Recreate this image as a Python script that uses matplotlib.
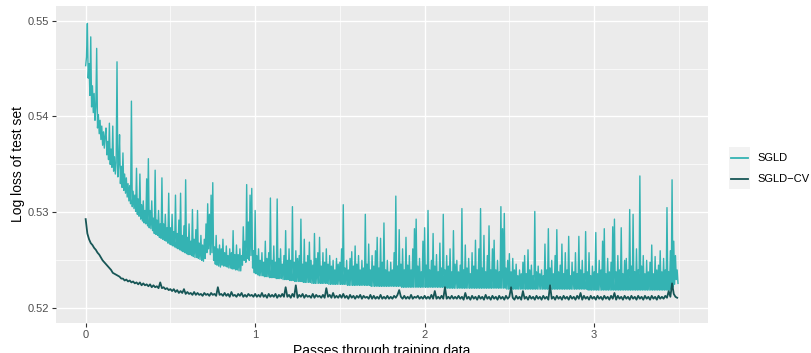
import numpy as np
import matplotlib
matplotlib.use("Agg")
import matplotlib.pyplot as plt
from matplotlib.lines import Line2D
from matplotlib.patches import Rectangle

plt.rcParams['font.family'] = ['Liberation Sans', 'DejaVu Sans']

# ---- data ----
sgld_step = 0.005
sgld = [
    0.5453, 0.5462, 0.5497, 0.5440, 0.5455, 0.5422, 0.5483, 0.5410, 0.5432, 0.5404,
    0.5424, 0.5396, 0.5410, 0.5471, 0.5388, 0.5402, 0.5382, 0.5396, 0.5376, 0.5390,
    0.5370, 0.5384, 0.5367, 0.5380, 0.5388, 0.5360, 0.5374, 0.5355, 0.5393, 0.5350,
    0.5366, 0.5347, 0.5390, 0.5343, 0.5358, 0.5340, 0.5352, 0.5457, 0.5337, 0.5350,
    0.5381, 0.5330, 0.5348, 0.5326, 0.5362, 0.5323, 0.5340, 0.5320, 0.5336, 0.5316,
    0.5330, 0.5312, 0.5328, 0.5309, 0.5416, 0.5306, 0.5322, 0.5304, 0.5318, 0.5301,
    0.5346, 0.5298, 0.5314, 0.5296, 0.5340, 0.5293, 0.5308, 0.5291, 0.5312, 0.5289,
    0.5302, 0.5288, 0.5335, 0.5286, 0.5356, 0.5284, 0.5302, 0.5283, 0.5312, 0.5281,
    0.5294, 0.5278, 0.5344, 0.5277, 0.5292, 0.5276, 0.5302, 0.5274, 0.5288, 0.5273,
    0.5336, 0.5272, 0.5288, 0.5271, 0.5298, 0.5270, 0.5284, 0.5268, 0.5320, 0.5267,
    0.5284, 0.5266, 0.5298, 0.5265, 0.5280, 0.5264, 0.5318, 0.5263, 0.5278, 0.5262,
    0.5292, 0.5261, 0.5320, 0.5260, 0.5276, 0.5259, 0.5286, 0.5258, 0.5334, 0.5257,
    0.5274, 0.5256, 0.5288, 0.5256, 0.5270, 0.5255, 0.5303, 0.5254, 0.5272, 0.5253,
    0.5282, 0.5253, 0.5302, 0.5252, 0.5268, 0.5251, 0.5276, 0.5250, 0.5266, 0.5249,
    0.5272, 0.5252, 0.5288, 0.5258, 0.5309, 0.5262, 0.5298, 0.5256, 0.5318, 0.5258,
    0.5331, 0.5250, 0.5264, 0.5246, 0.5276, 0.5245, 0.5262, 0.5244, 0.5266, 0.5243,
    0.5262, 0.5245, 0.5272, 0.5244, 0.5258, 0.5244, 0.5265, 0.5243, 0.5255, 0.5242,
    0.5262, 0.5242, 0.5258, 0.5241, 0.5281, 0.5241, 0.5256, 0.5240, 0.5266, 0.5240,
    0.5256, 0.5239, 0.5262, 0.5239, 0.5255, 0.5245, 0.5285, 0.5250, 0.5270, 0.5248,
    0.5329, 0.5252, 0.5290, 0.5250, 0.5318, 0.5255, 0.5325, 0.5242, 0.5260, 0.5237,
    0.5302, 0.5236, 0.5255, 0.5235, 0.5262, 0.5234, 0.5250, 0.5234, 0.5258, 0.5234,
    0.5248, 0.5233, 0.5270, 0.5233, 0.5252, 0.5233, 0.5258, 0.5232, 0.5315, 0.5232,
    0.5250, 0.5232, 0.5265, 0.5232, 0.5248, 0.5231, 0.5314, 0.5231, 0.5252, 0.5231,
    0.5262, 0.5231, 0.5246, 0.5230, 0.5255, 0.5230, 0.5281, 0.5230, 0.5250, 0.5230,
    0.5262, 0.5229, 0.5250, 0.5229, 0.5306, 0.5229, 0.5248, 0.5228, 0.5260, 0.5228,
    0.5252, 0.5228, 0.5255, 0.5228, 0.5293, 0.5228, 0.5246, 0.5227, 0.5272, 0.5227,
    0.5248, 0.5227, 0.5255, 0.5227, 0.5269, 0.5227, 0.5250, 0.5226, 0.5245, 0.5226,
    0.5278, 0.5226, 0.5252, 0.5226, 0.5258, 0.5226, 0.5274, 0.5226, 0.5244, 0.5226,
    0.5258, 0.5226, 0.5248, 0.5226, 0.5262, 0.5226, 0.5246, 0.5225, 0.5255, 0.5225,
    0.5244, 0.5225, 0.5250, 0.5225, 0.5240, 0.5225, 0.5252, 0.5225, 0.5246, 0.5225,
    0.5248, 0.5225, 0.5262, 0.5225, 0.5308, 0.5225, 0.5242, 0.5225, 0.5250, 0.5224,
    0.5240, 0.5224, 0.5252, 0.5224, 0.5259, 0.5224, 0.5244, 0.5224, 0.5265, 0.5224,
    0.5246, 0.5224, 0.5255, 0.5224, 0.5240, 0.5224, 0.5250, 0.5224, 0.5242, 0.5224,
    0.5298, 0.5224, 0.5246, 0.5224, 0.5267, 0.5224, 0.5240, 0.5223, 0.5255, 0.5223,
    0.5244, 0.5223, 0.5260, 0.5223, 0.5274, 0.5223, 0.5242, 0.5223, 0.5273, 0.5223,
    0.5248, 0.5223, 0.5289, 0.5223, 0.5240, 0.5223, 0.5250, 0.5223, 0.5238, 0.5223,
    0.5248, 0.5223, 0.5240, 0.5223, 0.5258, 0.5223, 0.5317, 0.5223, 0.5244, 0.5223,
    0.5282, 0.5223, 0.5246, 0.5222, 0.5262, 0.5222, 0.5240, 0.5222, 0.5274, 0.5222,
    0.5245, 0.5222, 0.5255, 0.5222, 0.5240, 0.5222, 0.5262, 0.5222, 0.5283, 0.5222,
    0.5293, 0.5222, 0.5244, 0.5222, 0.5252, 0.5222, 0.5238, 0.5222, 0.5270, 0.5222,
    0.5284, 0.5222, 0.5245, 0.5222, 0.5302, 0.5222, 0.5240, 0.5222, 0.5250, 0.5222,
    0.5278, 0.5222, 0.5244, 0.5222, 0.5256, 0.5222, 0.5238, 0.5222, 0.5268, 0.5222,
    0.5242, 0.5222, 0.5298, 0.5222, 0.5240, 0.5221, 0.5255, 0.5221, 0.5244, 0.5221,
    0.5262, 0.5221, 0.5238, 0.5221, 0.5281, 0.5221, 0.5246, 0.5221, 0.5250, 0.5221,
    0.5238, 0.5221, 0.5245, 0.5221, 0.5304, 0.5221, 0.5240, 0.5221, 0.5266, 0.5221,
    0.5242, 0.5221, 0.5252, 0.5221, 0.5236, 0.5221, 0.5258, 0.5221, 0.5244, 0.5221,
    0.5271, 0.5221, 0.5240, 0.5221, 0.5262, 0.5221, 0.5304, 0.5221, 0.5242, 0.5221,
    0.5276, 0.5221, 0.5238, 0.5221, 0.5255, 0.5221, 0.5286, 0.5221, 0.5240, 0.5221,
    0.5262, 0.5221, 0.5271, 0.5221, 0.5240, 0.5221, 0.5250, 0.5221, 0.5238, 0.5221,
    0.5306, 0.5221, 0.5283, 0.5221, 0.5299, 0.5221, 0.5242, 0.5220, 0.5250, 0.5220,
    0.5257, 0.5220, 0.5238, 0.5220, 0.5252, 0.5220, 0.5240, 0.5220, 0.5246, 0.5220,
    0.5234, 0.5220, 0.5240, 0.5220, 0.5236, 0.5220, 0.5248, 0.5220, 0.5255, 0.5220,
    0.5236, 0.5220, 0.5261, 0.5220, 0.5240, 0.5220, 0.5245, 0.5220, 0.5234, 0.5220,
    0.5301, 0.5220, 0.5238, 0.5220, 0.5244, 0.5220, 0.5236, 0.5220, 0.5240, 0.5220,
    0.5234, 0.5220, 0.5267, 0.5220, 0.5240, 0.5220, 0.5283, 0.5220, 0.5242, 0.5220,
    0.5250, 0.5220, 0.5236, 0.5220, 0.5255, 0.5220, 0.5282, 0.5220, 0.5238, 0.5220,
    0.5245, 0.5220, 0.5267, 0.5220, 0.5236, 0.5220, 0.5258, 0.5220, 0.5240, 0.5220,
    0.5275, 0.5220, 0.5234, 0.5220, 0.5248, 0.5220, 0.5238, 0.5220, 0.5258, 0.5220,
    0.5236, 0.5220, 0.5275, 0.5220, 0.5240, 0.5220, 0.5250, 0.5220, 0.5236, 0.5220,
    0.5280, 0.5220, 0.5238, 0.5219, 0.5258, 0.5219, 0.5234, 0.5219, 0.5244, 0.5219,
    0.5238, 0.5219, 0.5279, 0.5219, 0.5236, 0.5219, 0.5250, 0.5219, 0.5240, 0.5219,
    0.5270, 0.5219, 0.5283, 0.5219, 0.5236, 0.5219, 0.5252, 0.5219, 0.5238, 0.5219,
    0.5248, 0.5219, 0.5285, 0.5219, 0.5293, 0.5219, 0.5238, 0.5219, 0.5255, 0.5219,
    0.5240, 0.5219, 0.5284, 0.5219, 0.5236, 0.5219, 0.5250, 0.5219, 0.5252, 0.5219,
    0.5240, 0.5219, 0.5303, 0.5219, 0.5244, 0.5219, 0.5298, 0.5219, 0.5238, 0.5219,
    0.5262, 0.5219, 0.5240, 0.5219, 0.5338, 0.5219, 0.5244, 0.5219, 0.5255, 0.5219,
    0.5236, 0.5219, 0.5250, 0.5219, 0.5238, 0.5219, 0.5248, 0.5219, 0.5266, 0.5219,
    0.5236, 0.5219, 0.5254, 0.5219, 0.5240, 0.5219, 0.5245, 0.5219, 0.5260, 0.5219,
    0.5238, 0.5219, 0.5252, 0.5219, 0.5240, 0.5219, 0.5305, 0.5219, 0.5238, 0.5219,
    0.5260, 0.5220, 0.5334, 0.5222, 0.5270, 0.5225, 0.5255, 0.5230, 0.5240, 0.5226,
]

cv_step = 0.01
sgld_cv = [
    0.5293, 0.5278, 0.5272, 0.5268, 0.5266, 0.5263, 0.5261, 0.5258, 0.5256, 0.5253,
    0.5250, 0.5248, 0.5246, 0.5244, 0.5242, 0.5240, 0.5237, 0.5236, 0.5235, 0.5234,
    0.5233, 0.5231, 0.5231, 0.5229, 0.5230, 0.5228, 0.5229, 0.5227, 0.5228, 0.5226,
    0.5227, 0.5225, 0.5227, 0.5224, 0.5226, 0.5224, 0.5225, 0.5223, 0.5225, 0.5222,
    0.5224, 0.5222, 0.5223, 0.5221, 0.5227, 0.5221, 0.5222, 0.5220, 0.5221, 0.5219,
    0.5220, 0.5218, 0.5220, 0.5217, 0.5219, 0.5216, 0.5218, 0.5216, 0.5220, 0.5215,
    0.5217, 0.5215, 0.5216, 0.5214, 0.5217, 0.5214, 0.5216, 0.5214, 0.5215, 0.5213,
    0.5216, 0.5214, 0.5215, 0.5213, 0.5216, 0.5214, 0.5215, 0.5213, 0.5222, 0.5214,
    0.5215, 0.5213, 0.5216, 0.5213, 0.5215, 0.5212, 0.5217, 0.5213, 0.5214, 0.5212,
    0.5215, 0.5213, 0.5216, 0.5212, 0.5214, 0.5212, 0.5215, 0.5213, 0.5214, 0.5212,
    0.5215, 0.5212, 0.5214, 0.5212, 0.5216, 0.5212, 0.5214, 0.5211, 0.5215, 0.5212,
    0.5214, 0.5212, 0.5215, 0.5211, 0.5214, 0.5212, 0.5215, 0.5212, 0.5222, 0.5212,
    0.5214, 0.5211, 0.5215, 0.5212, 0.5224, 0.5211, 0.5214, 0.5212, 0.5215, 0.5211,
    0.5214, 0.5212, 0.5213, 0.5211, 0.5215, 0.5211, 0.5214, 0.5212, 0.5213, 0.5211,
    0.5214, 0.5211, 0.5221, 0.5212, 0.5214, 0.5211, 0.5216, 0.5211, 0.5213, 0.5211,
    0.5214, 0.5211, 0.5215, 0.5211, 0.5213, 0.5210, 0.5214, 0.5211, 0.5213, 0.5210,
    0.5213, 0.5211, 0.5214, 0.5210, 0.5213, 0.5211, 0.5212, 0.5210, 0.5214, 0.5210,
    0.5213, 0.5210, 0.5212, 0.5210, 0.5214, 0.5210, 0.5212, 0.5210, 0.5213, 0.5210,
    0.5212, 0.5210, 0.5213, 0.5211, 0.5214, 0.5219, 0.5212, 0.5210, 0.5213, 0.5210,
    0.5212, 0.5210, 0.5214, 0.5210, 0.5212, 0.5211, 0.5213, 0.5210, 0.5212, 0.5210,
    0.5213, 0.5210, 0.5212, 0.5210, 0.5214, 0.5210, 0.5218, 0.5210, 0.5212, 0.5210,
    0.5213, 0.5210, 0.5222, 0.5210, 0.5212, 0.5210, 0.5213, 0.5210, 0.5212, 0.5210,
    0.5213, 0.5210, 0.5212, 0.5209, 0.5216, 0.5210, 0.5212, 0.5209, 0.5213, 0.5210,
    0.5212, 0.5209, 0.5213, 0.5210, 0.5212, 0.5209, 0.5214, 0.5210, 0.5212, 0.5209,
    0.5213, 0.5210, 0.5212, 0.5209, 0.5213, 0.5210, 0.5212, 0.5209, 0.5213, 0.5210,
    0.5212, 0.5222, 0.5211, 0.5209, 0.5213, 0.5210, 0.5212, 0.5209, 0.5218, 0.5210,
    0.5212, 0.5209, 0.5213, 0.5210, 0.5212, 0.5209, 0.5213, 0.5210, 0.5212, 0.5209,
    0.5213, 0.5210, 0.5212, 0.5209, 0.5224, 0.5210, 0.5212, 0.5209, 0.5213, 0.5210,
    0.5212, 0.5209, 0.5213, 0.5210, 0.5212, 0.5209, 0.5213, 0.5210, 0.5212, 0.5209,
    0.5213, 0.5210, 0.5216, 0.5209, 0.5213, 0.5210, 0.5212, 0.5209, 0.5213, 0.5210,
    0.5212, 0.5209, 0.5213, 0.5210, 0.5212, 0.5209, 0.5213, 0.5210, 0.5212, 0.5209,
    0.5213, 0.5210, 0.5216, 0.5209, 0.5213, 0.5210, 0.5212, 0.5209, 0.5213, 0.5210,
    0.5212, 0.5209, 0.5213, 0.5210, 0.5212, 0.5209, 0.5213, 0.5210, 0.5212, 0.5209,
    0.5213, 0.5210, 0.5212, 0.5209, 0.5213, 0.5210, 0.5212, 0.5209, 0.5213, 0.5210,
    0.5212, 0.5210, 0.5213, 0.5211, 0.5218, 0.5212, 0.5226, 0.5215, 0.5212, 0.5211,
]

series_names = ["SGLD", "SGLD\u2212CV"]
series_colors = ["#34b3b3", "#175656"]
x_ticks = [0, 1, 2, 3]
y_ticks = [0.52, 0.53, 0.54, 0.55]
x_label = "Passes through training data"
y_label = "Log loss of test set"

x_sgld = np.arange(len(sgld)) * sgld_step
x_cv = np.arange(len(sgld_cv)) * cv_step

W, H = 811, 353
fig = plt.figure(figsize=(W / 100, H / 100), dpi=100)
L, R, T, B = 56, 708, 5.7, 322.7
ax = fig.add_axes([L / W, 1 - B / H, (R - L) / W, (B - T) / H])
ax.set_facecolor("#ebebeb")
for s in ax.spines.values():
    s.set_visible(False)

ax.plot(x_sgld, sgld, color=series_colors[0], lw=1.0, zorder=3)
ax.plot(x_cv, sgld_cv, color=series_colors[1], lw=1.3, zorder=4)

ax.set_xlim(-0.175, 3.672)
ax.set_ylim(0.51850, 0.55155)
ax.set_xticks(x_ticks)
ax.set_xticklabels([str(t) for t in x_ticks])
ax.set_yticks(y_ticks)
ax.set_yticklabels(["%.2f" % t for t in y_ticks])
ax.set_xticks([0.5, 1.5, 2.5, 3.5], minor=True)
ax.set_yticks([0.525, 0.535, 0.545], minor=True)
ax.grid(which="major", color="white", lw=1.0, zorder=0)
ax.grid(which="minor", color="white", lw=0.5, zorder=0)
ax.set_axisbelow(True)
ax.tick_params(which="major", length=3, width=0.8, color="#333333",
               labelsize=8, labelcolor="#4d4d4d", pad=2)
ax.tick_params(which="minor", length=0)
ax.set_xlabel(x_label, fontsize=10, color="black", labelpad=3)
ax.set_ylabel(y_label, fontsize=10, color="black", labelpad=2)

# legend (ggplot style)
key_x0, key_x1 = 729, 750
rows = [(147, 168), (168, 189)]
for (y0, y1), name, col in zip(rows, series_names, series_colors):
    fig.add_artist(Rectangle((key_x0 / W, 1 - y1 / H), (key_x1 - key_x0) / W, (y1 - y0) / H,
                             transform=fig.transFigure, facecolor="#f2f2f2",
                             edgecolor="none", zorder=1))
    yc = (y0 + y1) / 2
    fig.add_artist(Line2D([(key_x0 + 2) / W, (key_x1 - 2) / W], [1 - yc / H, 1 - yc / H],
                          transform=fig.transFigure, color=col, lw=1.3, zorder=2))
    fig.text(757 / W, 1 - yc / H, name, fontsize=8, color="black", va="center", ha="left")

fig.savefig("out.png", dpi=100)
